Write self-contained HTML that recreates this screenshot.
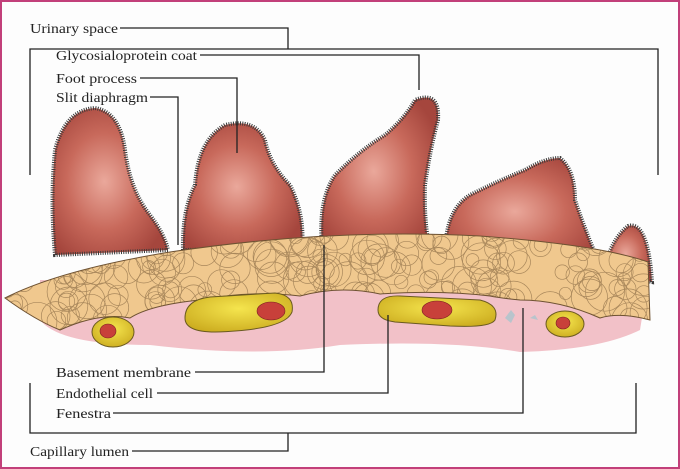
<!DOCTYPE html>
<html><head><style>
body{margin:0;background:#fff}
svg{display:block}
text{font-family:"Liberation Serif",serif;font-size:14px;fill:#222}
</style></head><body>
<svg id="s" width="680" height="469" viewBox="0 0 680 469">
<defs>
<radialGradient id="pod" cx="0.45" cy="0.5" r="0.6">
<stop offset="0" stop-color="#eaa89b"/><stop offset="0.55" stop-color="#c8695b"/><stop offset="1" stop-color="#a5463d"/>
</radialGradient>
<radialGradient id="yel" cx="0.5" cy="0.4" r="0.7">
<stop offset="0" stop-color="#f5e54e"/><stop offset="1" stop-color="#c9a81c"/>
</radialGradient>
<clipPath id="mem"><path id="memp" d="M5 298 Q60 270 170 252 Q330 228 480 236 Q600 245 648 262 L650 320 Q620 312 600 318 Q560 300 520 300 Q500 298 490 296 Q440 290 380 294 Q340 285 300 296 Q250 290 200 300 Q150 305 130 318 Q100 312 60 330 Q35 320 5 298Z"/></clipPath>
</defs>
<rect x="1" y="1" width="678" height="467" fill="#fdfdfd" stroke="#c2407a" stroke-width="2"/>
<!-- pink lumen -->
<path d="M40 320 Q60 345 150 345 Q260 358 340 345 Q450 340 520 352 Q600 350 640 330 L648 280 L40 280Z" fill="#f2c1c8"/>
<!-- podocytes -->
<g fill="url(#pod)" stroke="#3a3a3a" stroke-width="4" stroke-dasharray="1 1.3">
<path d="M55 255 Q50 200 55 150 Q65 110 95 108 Q120 112 125 150 Q130 190 150 215 Q165 235 168 250Z"/>
<path d="M183 250 Q182 210 195 185 Q198 140 225 125 Q255 118 265 140 Q270 165 290 185 Q305 215 302 248Z"/>
<path d="M322 245 Q318 200 335 175 Q360 150 385 135 Q405 118 415 100 Q440 90 438 120 Q430 150 425 185 Q424 215 428 240Z"/>
<path d="M445 255 Q445 210 470 195 Q500 180 525 170 Q545 158 560 158 Q575 170 575 200 Q585 230 600 265Z"/>
<path d="M604 272 Q610 240 628 226 Q648 220 652 282Z"/>
</g>
<!-- basement membrane -->
<use href="#memp" fill="#f0c88e"/>
<g id="fib" clip-path="url(#mem)" fill="none" stroke="#6e5232" stroke-width="0.7" opacity="0.55"></g>
<use href="#memp" fill="none" stroke="#6e5232" stroke-width="1"/>
<!-- endothelial cells -->
<ellipse cx="113" cy="332" rx="21" ry="15" fill="url(#yel)" stroke="#6a5a20"/>
<ellipse cx="108" cy="331" rx="8" ry="7" fill="#c8403a" stroke="#7a2020" stroke-width="0.6"/>
<path d="M185 318 Q185 300 210 297 L275 293 Q295 295 292 312 Q285 330 215 332 Q185 332 185 318Z" fill="url(#yel)" stroke="#6a5a20"/>
<ellipse cx="271" cy="311" rx="14" ry="9" fill="#c8403a" stroke="#7a2020" stroke-width="0.6"/>
<path d="M378 310 Q378 295 400 296 L480 300 Q500 305 495 320 Q490 328 450 326 L395 322 Q378 320 378 310Z" fill="url(#yel)" stroke="#6a5a20"/>
<ellipse cx="437" cy="310" rx="15" ry="9" fill="#c8403a" stroke="#7a2020" stroke-width="0.6"/>
<ellipse cx="565" cy="324" rx="19" ry="13" fill="url(#yel)" stroke="#6a5a20"/>
<ellipse cx="563" cy="323" rx="7" ry="6" fill="#c8403a" stroke="#7a2020" stroke-width="0.6"/>
<path d="M505 318 l6 -8 4 5 -4 8z M530 318 l5 -3 3 5z" fill="#b8c4cc"/>
<!-- leader lines -->
<g fill="none" stroke="#222" stroke-width="1.3">
<path d="M120 28 H288 V49 M30 175 V49 H658 V175"/>
<path d="M200 55 H419 V90"/>
<path d="M140 78 H237 V153"/>
<path d="M150 97 H178 V245"/>
<path d="M195 372 H324 V245"/>
<path d="M157 393 H388 V315"/>
<path d="M113 413 H523 V308"/>
<path d="M30 383 V433 H636 V383 M288 433 V451 H132"/>
</g>
<text x="30" y="33" textLength="88" lengthAdjust="spacingAndGlyphs">Urinary space</text>
<text x="56" y="60" textLength="141" lengthAdjust="spacingAndGlyphs">Glycosialoprotein coat</text>
<text x="56" y="83" textLength="81" lengthAdjust="spacingAndGlyphs">Foot process</text>
<text x="56" y="102" textLength="92" lengthAdjust="spacingAndGlyphs">Slit diaphragm</text>
<text x="56" y="377" textLength="135" lengthAdjust="spacingAndGlyphs">Basement membrane</text>
<text x="56" y="398" textLength="97" lengthAdjust="spacingAndGlyphs">Endothelial cell</text>
<text x="56" y="418" textLength="55" lengthAdjust="spacingAndGlyphs">Fenestra</text>
<text x="30" y="456" textLength="99" lengthAdjust="spacingAndGlyphs">Capillary lumen</text>
</svg>
<script>
var g=document.getElementById('fib'),s=7,h='';
function r(){s=(s*9301+49297)%233280;return s/233280;}
for(var i=0;i<260;i++){var x=5+r()*645,y=228+r()*100,rad=6+r()*14;h+='<circle cx="'+x.toFixed(1)+'" cy="'+y.toFixed(1)+'" r="'+rad.toFixed(1)+'"/>';}
g.innerHTML=h;
</script>
</body></html>
